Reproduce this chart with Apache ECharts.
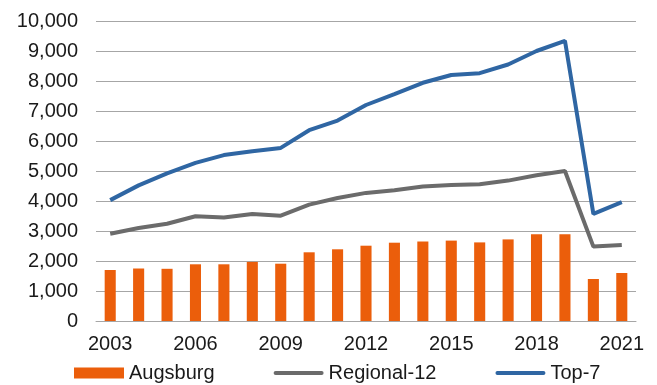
<!DOCTYPE html>
<html><head><meta charset="utf-8">
<script src="https://cdn.jsdelivr.net/npm/echarts@6/dist/echarts.min.js"></script>
<style>html,body{margin:0;padding:0;background:#fff}#c{width:657px;height:385px}</style>
</head><body><div id="c"></div>
<script>
const years = ['2003','2004','2005','2006','2007','2008','2009','2010','2011','2012','2013','2014','2015','2016','2017','2018','2019','2020','2021'];
const augsburg = [1700,1750,1740,1890,1890,1970,1910,2290,2390,2510,2610,2650,2680,2620,2720,2890,2890,1400,1600];
const regional12 = [2910,3100,3240,3490,3450,3570,3510,3880,4100,4270,4360,4480,4530,4560,4680,4860,5000,2480,2530];
const top7 = [4030,4520,4920,5270,5530,5660,5770,6360,6680,7200,7560,7940,8200,8260,8550,9000,9340,3570,3960];

const chart = echarts.init(document.getElementById('c'));
const font = 'Liberation Sans, Arial, sans-serif';
const lineIcon = 'path://M2,0 H48 A2,2 0 0 1 48,4 H2 A2,2 0 0 1 2,0 Z';
chart.setOption({
  animation: false,
  grid: {left: 96, right: 21, top: 21, bottom: 64},
  legend: {
    top: 363, left: 74, padding: 0, itemGap: 59, itemWidth: 50, itemHeight: 11,
    symbolKeepAspect: true,
    textStyle: {fontFamily: font, fontSize: 20, color: '#1a1a1a'},
    data: [
      {name: 'Augsburg', icon: 'rect'},
      {name: 'Regional-12', icon: lineIcon},
      {name: 'Top-7', icon: lineIcon}
    ]
  },
  xAxis: {
    type: 'category', data: years, boundaryGap: true,
    axisLine: {show: true, lineStyle: {color: '#a6a6a6', width: 1}},
    axisTick: {show: false},
    axisLabel: {interval: 2, fontFamily: font, fontSize: 20, color: '#1a1a1a', margin: 13}
  },
  yAxis: {
    type: 'value', min: 0, max: 10000, interval: 1000,
    axisLine: {show: false}, axisTick: {show: false},
    splitLine: {lineStyle: {color: '#a6a6a6', width: 1}},
    axisLabel: {fontFamily: font, fontSize: 20, color: '#1a1a1a', margin: 18,
      formatter: v => v.toLocaleString('en-US')}
  },
  series: [
    {name: 'Augsburg', type: 'bar', data: augsburg, barWidth: '39%',
     itemStyle: {color: '#EB5E0B'}},
    {name: 'Regional-12', type: 'line', data: regional12, symbol: 'none',
     lineStyle: {color: '#6b6b6b', width: 4}, itemStyle: {color: '#6b6b6b'}},
    {name: 'Top-7', type: 'line', data: top7, symbol: 'none',
     lineStyle: {color: '#2F66A3', width: 4}, itemStyle: {color: '#2F66A3'}}
  ]
});
</script></body></html>
